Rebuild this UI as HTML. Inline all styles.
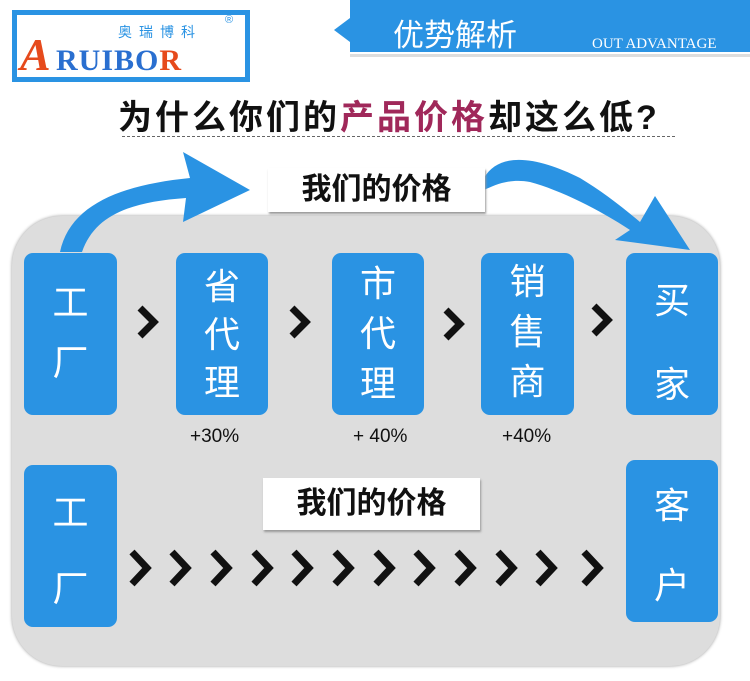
<!DOCTYPE html>
<html><head><meta charset="utf-8"><style>
body{margin:0;width:750px;height:681px;background:#fff;position:relative;overflow:hidden;font-family:"Liberation Sans","Noto Sans CJK SC",sans-serif}
.a{position:absolute}
.box{position:absolute;background:#2a93e3;border-radius:9px;color:#fff;font-size:36px;text-align:center;line-height:1.3}
.pct{position:absolute;font-size:19px;color:#111}
.lab{position:absolute;background:#fff;font-weight:bold;font-size:30px;color:#111;text-align:center;box-shadow:1px 2px 2px #999}
</style></head><body>
<div class="a" style="left:12px;top:10px;width:228px;height:62px;border:5px solid #2a93e3;background:#fff"></div>
<div class="a" style="left:20px;top:28px;font-family:'Liberation Serif',serif;font-style:italic;font-size:46px;color:#e64a1c;font-weight:bold">A</div>
<div class="a" style="left:56px;top:44px;font-family:'Liberation Serif',serif;font-size:30px;color:#2a6fd0;font-weight:bold;letter-spacing:1px">RUIBO<span style="color:#e64a1c">R</span></div>
<div class="a" style="left:118px;top:22px;font-size:14px;color:#2a93e3;letter-spacing:7px">奥瑞博科</div>
<div class="a" style="left:225px;top:14px;font-size:11px;color:#2a93e3">®</div>
<div class="a" style="left:350px;top:0;width:400px;height:52px;background:#2a93e3"></div>
<div class="a" style="left:334px;top:18px;width:0;height:0;border-top:12px solid transparent;border-bottom:12px solid transparent;border-right:16px solid #2a93e3"></div>
<div class="a" style="left:350px;top:54px;width:400px;height:3px;background:#ddd"></div>
<div class="a" style="left:393px;top:10px;font-size:31px;color:#fff">优势解析</div>
<div class="a" style="left:592px;top:36px;font-family:'Liberation Serif',serif;font-size:15px;color:#fff">OUT ADVANTAGE</div>
<div class="a" style="left:118px;top:90px;font-size:34px;font-weight:bold;color:#111;letter-spacing:3px">为什么你们的<span style="color:#a0285a">产品价格</span>却这么低?</div>
<div class="a" style="left:122px;top:136px;width:553px;border-top:1px dashed #666"></div>
<div class="a" style="left:12px;top:216px;width:708px;height:450px;background:#dddddd;border-radius:50px;box-shadow:0 0 3px #999"></div>
<svg class="a" style="left:0;top:0" width="750" height="681">
<path d="M60 252 C70 205 120 185 190 178 L183 152 L250 190 L183 222 L186 198 C130 202 95 215 82 252 Z" fill="#2a93e3"/>
<path d="M484 178 C500 150 540 158 580 178 C600 190 620 205 640 222 L655 196 L690 250 L615 240 L630 230 C600 210 560 190 530 182 C510 178 495 185 484 190 Z" fill="#2a93e3"/>
<g fill="none" stroke="#111" stroke-width="7" stroke-linejoin="miter">
<polyline points="140,308 154,322 140,336"/>
<polyline points="292,308 306,322 292,336"/>
<polyline points="446,310 460,324 446,338"/>
<polyline points="594,306 608,320 594,334"/>
</g>
<g fill="none" stroke="#111" stroke-width="7">
<polyline points="132,552 147,568 132,584"/>
<polyline points="172,552 187,568 172,584"/>
<polyline points="213,552 228,568 213,584"/>
<polyline points="254,552 269,568 254,584"/>
<polyline points="294,552 309,568 294,584"/>
<polyline points="335,552 350,568 335,584"/>
<polyline points="376,552 391,568 376,584"/>
<polyline points="416,552 431,568 416,584"/>
<polyline points="457,552 472,568 457,584"/>
<polyline points="498,552 513,568 498,584"/>
<polyline points="538,552 553,568 538,584"/>
<polyline points="584,552 599,568 584,584"/>
</g>
</svg>
<div class="lab" style="left:268px;top:168px;width:217px;height:44px;line-height:44px">我们的价格</div>
<div class="box" style="left:24px;top:253px;width:93px;height:162px;padding-top:20px;box-sizing:border-box;line-height:60px">工<br>厂</div>
<div class="box" style="left:176px;top:253px;width:92px;height:162px;padding-top:10px;box-sizing:border-box;line-height:48px">省<br>代<br>理</div>
<div class="box" style="left:332px;top:253px;width:92px;height:162px;padding-top:6px;box-sizing:border-box;line-height:50px">市<br>代<br>理</div>
<div class="box" style="left:481px;top:253px;width:93px;height:162px;padding-top:4px;box-sizing:border-box;line-height:50px">销<br>售<br>商</div>
<div class="box" style="left:626px;top:253px;width:92px;height:162px;padding-top:6px;box-sizing:border-box;line-height:84px">买<br>家</div>
<div class="pct" style="left:190px;top:426px">+30%</div>
<div class="pct" style="left:353px;top:426px">+ 40%</div>
<div class="pct" style="left:502px;top:426px">+40%</div>
<div class="box" style="left:24px;top:465px;width:93px;height:162px;padding-top:10px;box-sizing:border-box;line-height:76px">工<br>厂</div>
<div class="box" style="left:626px;top:460px;width:92px;height:162px;padding-top:6px;box-sizing:border-box;line-height:80px">客<br>户</div>
<div class="lab" style="left:263px;top:478px;width:217px;height:52px;line-height:52px">我们的价格</div>
</body></html>
